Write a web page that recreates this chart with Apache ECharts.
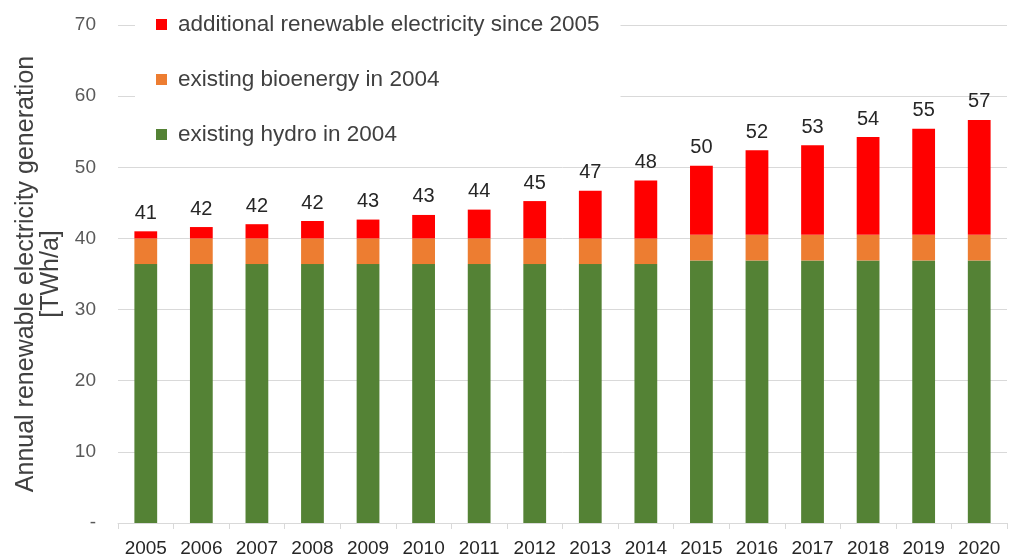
<!DOCTYPE html>
<html>
<head>
<meta charset="utf-8">
<script src="https://cdn.jsdelivr.net/npm/echarts@6/dist/echarts.min.js"></script>
<style>
  html, body { margin: 0; padding: 0; background: #fff; }
  #chart { width: 1015px; height: 558px; }
</style>
</head>
<body>
<div id="chart"></div>
<script>
// Annual renewable electricity generation, TWh/a
const years = ['2005','2006','2007','2008','2009','2010','2011','2012','2013','2014','2015','2016','2017','2018','2019','2020'];
const hydro2004 = [36.4,36.4,36.4,36.4,36.4,36.4,36.4,36.4,36.4,36.4,36.9,36.9,36.9,36.9,36.9,36.9];
const bio2004 = [3.6,3.6,3.6,3.6,3.6,3.6,3.6,3.6,3.6,3.6,3.6,3.6,3.6,3.6,3.6,3.6];
const additional = [1.0,1.6,2.0,2.45,2.65,3.3,4.05,5.25,6.7,8.15,9.7,11.9,12.6,13.75,14.9,16.15];
const yTicks = [0,10,20,30,40,50,60,70];

const seriesNames = {
  add: 'additional renewable electricity since 2005',
  bio: 'existing bioenergy in 2004',
  hydro: 'existing hydro in 2004'
};

const totals = years.map((_, i) =>
  Math.round((hydro2004[i] + bio2004[i] + additional[i]) * 100) / 100);

const FONT = '"Liberation Sans", Arial, sans-serif';
const GRID_COLOR = '#d9d9d9';

const chart = echarts.init(document.getElementById('chart'), null, { renderer: 'canvas' });

chart.setOption({
  animation: false,
  backgroundColor: '#ffffff',
  textStyle: { fontFamily: FONT },
  grid: { left: 118, right: 8, top: 25, bottom: 33, containLabel: false },
  legend: {
    data: [seriesNames.add, seriesNames.bio, seriesNames.hydro],
    orient: 'vertical',
    left: 135,
    top: 0,
    padding: [13, 21, 10, 21],
    itemGap: 32,
    itemWidth: 11,
    itemHeight: 11,
    icon: 'rect',
    backgroundColor: '#ffffff',
    textStyle: { fontFamily: FONT, fontSize: 22.5, color: '#404040', padding: [0, 0, 0, 6] }
  },
  xAxis: {
    type: 'category',
    data: years,
    axisLine: { show: true, lineStyle: { color: GRID_COLOR, width: 1 } },
    axisTick: { show: true, length: 6, lineStyle: { color: GRID_COLOR } },
    axisLabel: { interval: 0, margin: 16, fontFamily: FONT, fontSize: 19, color: '#262626' }
  },
  yAxis: {
    type: 'value',
    min: yTicks[0],
    max: yTicks[yTicks.length - 1],
    interval: 10,
    name: 'Annual renewable electricity generation\n[TWh/a]',
    nameLocation: 'middle',
    nameRotate: 90,
    nameGap: 50,
    nameTextStyle: { fontFamily: FONT, fontSize: 25, color: '#404040', lineHeight: 25 },
    axisLine: { show: false },
    axisTick: { show: false },
    splitLine: { lineStyle: { color: GRID_COLOR, width: 1 } },
    axisLabel: {
      margin: 22,
      fontFamily: FONT,
      fontSize: 19,
      color: '#595959',
      formatter: v => (v === 0 ? '-' : String(v))
    }
  },
  series: [
    {
      name: seriesNames.hydro,
      type: 'bar',
      stack: 'total',
      data: hydro2004,
      barCategoryGap: '59%',
      itemStyle: { color: '#548235' }
    },
    {
      name: seriesNames.bio,
      type: 'bar',
      stack: 'total',
      data: bio2004,
      itemStyle: { color: '#ED7D31' }
    },
    {
      name: seriesNames.add,
      type: 'bar',
      stack: 'total',
      data: additional,
      itemStyle: { color: '#FF0000' },
      label: {
        show: true,
        position: 'top',
        distance: 8,
        fontFamily: FONT,
        fontSize: 20,
        color: '#262626',
        formatter: p => String(Math.round(totals[p.dataIndex]))
      }
    }
  ]
});
</script>
</body>
</html>
